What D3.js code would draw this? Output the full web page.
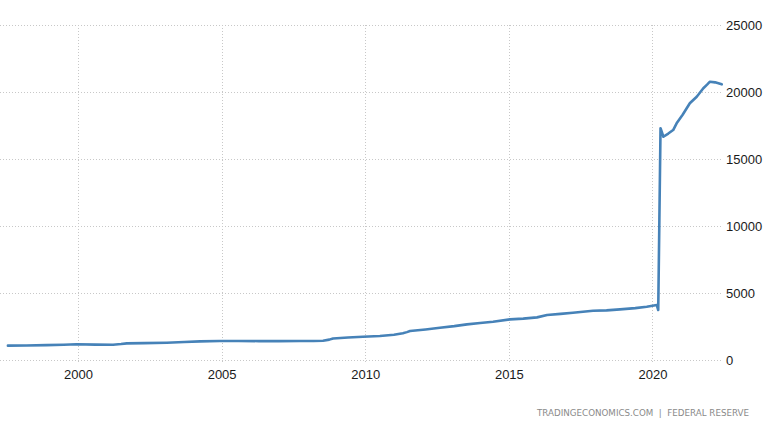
<!DOCTYPE html>
<html>
<head>
<meta charset="utf-8">
<script src="https://cdn.jsdelivr.net/npm/d3@7"></script>
<style>
  html, body { margin: 0; padding: 0; background: #fff; }
  svg { display: block; }
</style>
</head>
<body>
<svg id="chart" width="768" height="432"></svg>
<script>
// Decimal years and values (billions USD)
const years = [1997.56, 1998.2, 1998.9, 1999.5, 1999.95, 2000.6, 2001.22, 2001.5, 2001.7, 2002.3, 2003.09, 2003.7, 2004.25, 2004.94, 2005.6, 2006.3, 2007.0, 2007.73, 2008.2, 2008.53, 2008.75, 2008.88, 2009.4, 2009.92, 2010.51, 2011.0, 2011.31, 2011.45, 2011.56, 2012.1, 2012.6, 2013.1, 2013.54, 2014.0, 2014.45, 2015.04, 2015.5, 2015.98, 2016.33, 2016.8, 2017.23, 2017.93, 2018.4, 2018.87, 2019.4, 2019.8, 2020.15, 2020.20, 2020.24, 2020.28, 2020.38, 2020.55, 2020.72, 2020.84, 2021.05, 2021.30, 2021.54, 2021.77, 2021.9, 2022.0, 2022.18, 2022.41];
const values = [1070, 1080, 1110, 1140, 1170, 1150, 1140, 1190, 1240, 1260, 1290, 1340, 1390, 1420, 1420, 1410, 1410, 1420, 1420, 1440, 1520, 1610, 1680, 1740, 1790, 1880, 1990, 2080, 2160, 2280, 2410, 2530, 2660, 2760, 2860, 3030, 3090, 3180, 3360, 3440, 3530, 3680, 3700, 3780, 3870, 3970, 4100, 3730, 10500, 17300, 16660, 16900, 17160, 17660, 18300, 19160, 19650, 20280, 20550, 20770, 20720, 20570];
const yTicks = [0, 5000, 10000, 15000, 20000, 25000];
const xTicks = [2000, 2005, 2010, 2015, 2020];
const sourceText = "TRADINGECONOMICS.COM  |  FEDERAL RESERVE";

const data = years.map((y, i) => ({ year: y, value: values[i] }));

const svg = d3.select("#chart");
const plot = { left: 0, right: 722, top: 25, bottom: 360 };

const x = d3.scaleLinear().domain([1997.285, 2022.42]).range([plot.left, plot.right]);
const y = d3.scaleLinear().domain([0, 25000]).range([plot.bottom, plot.top]);

const gridColor = "#c8c8c8";

// horizontal gridlines
svg.append("g").selectAll("line").data(yTicks).join("line")
  .attr("x1", plot.left).attr("x2", plot.right)
  .attr("y1", d => y(d) + 0.5).attr("y2", d => y(d) + 0.5)
  .attr("stroke", gridColor).attr("stroke-width", 1)
  .attr("stroke-dasharray", "1,2");

// vertical gridlines
svg.append("g").selectAll("line").data(xTicks).join("line")
  .attr("x1", d => Math.round(x(d)) + 0.5).attr("x2", d => Math.round(x(d)) + 0.5)
  .attr("y1", plot.top).attr("y2", plot.bottom + 4)
  .attr("stroke", gridColor).attr("stroke-width", 1)
  .attr("stroke-dasharray", "1,2");

// y axis labels (right)
const yAxis = d3.axisRight(y).tickValues(yTicks).tickSize(0).tickPadding(0).tickFormat(d3.format("d"));
const ya = svg.append("g").attr("transform", `translate(${plot.right + 4},0)`).call(yAxis);
ya.select(".domain").remove();
ya.selectAll("text").attr("font-family", "'Liberation Sans', Arial, sans-serif")
  .attr("font-size", 13).attr("fill", "#1a1a1a");

// x axis labels
const xAxis = d3.axisBottom(x).tickValues(xTicks).tickSize(0).tickPadding(0).tickFormat(d3.format("d"));
const xa = svg.append("g").attr("transform", `translate(0,${plot.bottom + 10})`).call(xAxis);
xa.select(".domain").remove();
xa.selectAll("text").attr("font-family", "'Liberation Sans', Arial, sans-serif")
  .attr("font-size", 13).attr("fill", "#1a1a1a");

// line
const line = d3.line().x(d => x(d.year)).y(d => y(d.value)).curve(d3.curveLinear);
svg.append("path").datum(data)
  .attr("d", line)
  .attr("fill", "none")
  .attr("stroke", "#4682b8")
  .attr("stroke-width", 2.6)
  .attr("stroke-linejoin", "round")
  .attr("stroke-linecap", "round");

// source text
svg.append("text")
  .attr("x", 537).attr("y", 416)
  .attr("text-anchor", "start")
  .attr("font-family", "'DejaVu Sans', sans-serif")
  .attr("font-size", 9.5)
  .attr("fill", "#8a8a8a")
  .attr("textLength", 212)
  .attr("lengthAdjust", "spacingAndGlyphs")
  .attr("xml:space", "preserve")
  .style("white-space", "pre")
  .text(sourceText);
</script>
</body>
</html>
